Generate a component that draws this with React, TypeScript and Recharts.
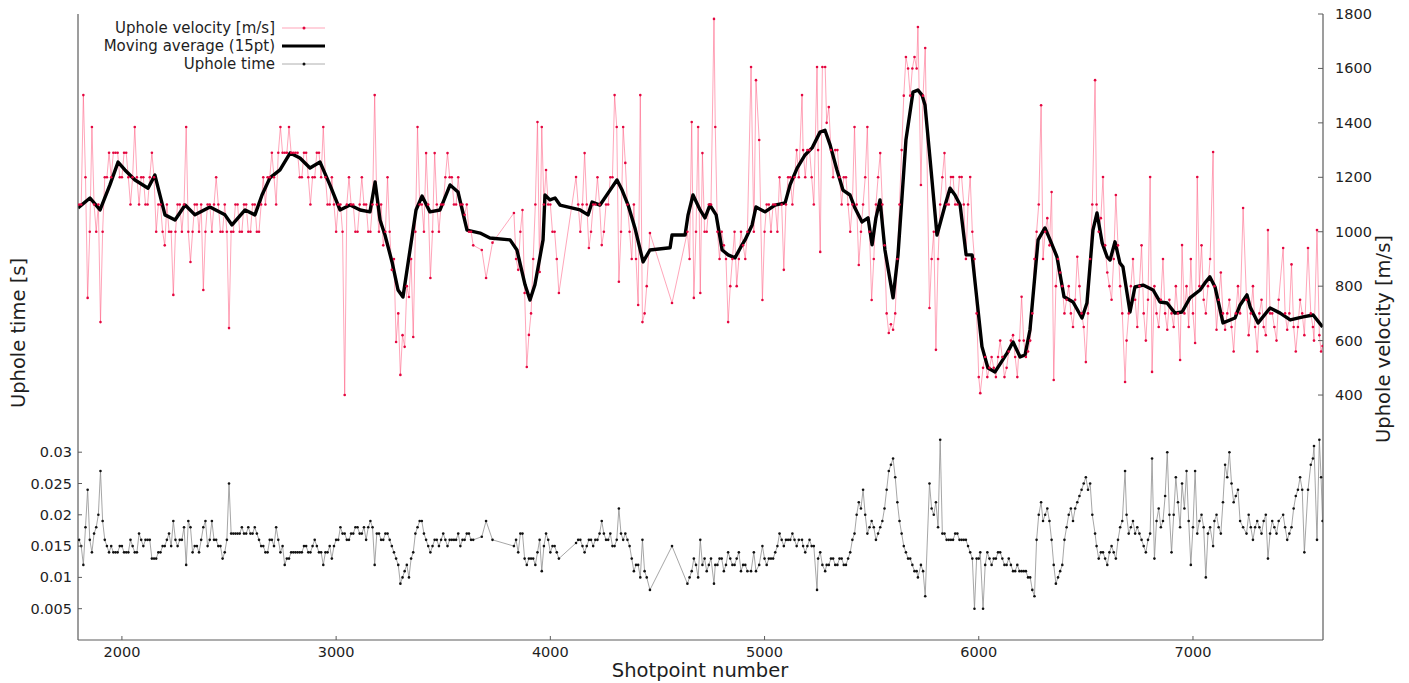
import React from 'react';
import { LineChart, Line, XAxis, YAxis, Legend } from 'recharts';

// Shotpoints shared by the raw velocity and uphole time records
const shotpoints = [
  1800, 1810, 1820, 1830, 1840, 1850, 1860, 1870, 1880, 1890, 1900, 1910, 1920, 1930, 1940, 1950, 1960, 1970, 1980, 1990,
  2000, 2010, 2020, 2030, 2040, 2050, 2060, 2070, 2080, 2090, 2100, 2110, 2120, 2130, 2140, 2150, 2160, 2170, 2180, 2190,
  2200, 2210, 2220, 2230, 2240, 2250, 2260, 2270, 2280, 2290, 2300, 2310, 2320, 2330, 2340, 2350, 2360, 2370, 2380, 2390,
  2400, 2410, 2420, 2430, 2440, 2450, 2460, 2470, 2480, 2490, 2500, 2510, 2520, 2530, 2540, 2550, 2560, 2570, 2580, 2590,
  2600, 2610, 2620, 2630, 2640, 2650, 2660, 2670, 2680, 2690, 2700, 2710, 2720, 2730, 2740, 2750, 2760, 2770, 2780, 2790,
  2800, 2810, 2820, 2830, 2840, 2850, 2860, 2870, 2880, 2890, 2900, 2910, 2920, 2930, 2940, 2950, 2960, 2970, 2980, 2990,
  3000, 3010, 3020, 3030, 3040, 3050, 3060, 3070, 3080, 3090, 3100, 3110, 3120, 3130, 3140, 3150, 3160, 3170, 3180, 3190,
  3200, 3210, 3220, 3230, 3240, 3250, 3260, 3270, 3280, 3290, 3300, 3310, 3320, 3330, 3340, 3350, 3360, 3370, 3380, 3390,
  3400, 3410, 3420, 3430, 3440, 3450, 3460, 3470, 3480, 3490, 3500, 3510, 3520, 3530, 3540, 3550, 3560, 3570, 3580, 3590,
  3600, 3610, 3620, 3630, 3640, 3680, 3700, 3730, 3830, 3840, 3850, 3860, 3870, 3880, 3890,
  3900, 3910, 3920, 3930, 3940, 3950, 3960, 3970, 3980, 3990, 4000, 4010, 4020, 4030, 4040,
  4120, 4130, 4140, 4150, 4160, 4170, 4180, 4190, 4200, 4210, 4220, 4230, 4240, 4250, 4260, 4270, 4280, 4290,
  4300, 4310, 4320, 4330, 4340, 4350, 4360, 4370, 4380, 4390, 4400, 4410, 4420, 4430, 4440, 4450, 4465, 4568,
  4640, 4650, 4660, 4670, 4680, 4690, 4700, 4710, 4720, 4730, 4740, 4750, 4764, 4770, 4780, 4790, 4800, 4810, 4820, 4830,
  4840, 4850, 4860, 4870, 4880, 4890, 4900, 4910, 4920, 4937, 4950, 4960, 4975, 4990,
  5000, 5010, 5020, 5030, 5040, 5050, 5060, 5070, 5080, 5090, 5100,
  5110, 5120, 5130, 5140, 5150, 5160, 5175, 5180, 5190, 5200, 5210, 5220, 5230, 5245, 5250, 5260, 5270, 5283,
  5290, 5300, 5310, 5320, 5330, 5340, 5350, 5360, 5370, 5380, 5390, 5400, 5410, 5420, 5430, 5440, 5450, 5460, 5470,
  5480, 5490, 5500, 5510, 5520, 5530, 5540, 5550, 5560, 5570, 5580, 5590, 5600, 5610, 5620, 5630, 5640, 5650, 5660, 5670,
  5680, 5690, 5700, 5710, 5716, 5730, 5740, 5750, 5770, 5780, 5790, 5800, 5810, 5820, 5830, 5840, 5850,
  5860, 5870, 5880, 5890, 5900, 5910, 5920, 5930, 5940, 5950, 5960, 5970, 5980, 5990, 6000, 6007,
  6020, 6030, 6040, 6050, 6060, 6070, 6080, 6090, 6100, 6110, 6120, 6130, 6140, 6150, 6160, 6170, 6180, 6190, 6200, 6210, 6220, 6230,
  6240, 6250, 6260, 6270, 6280, 6291, 6300, 6310, 6320, 6330, 6340, 6350, 6360, 6370, 6380, 6390,
  6400, 6410, 6420, 6430, 6440, 6450, 6460, 6470, 6480, 6490, 6500, 6510, 6520, 6530, 6543, 6550, 6560, 6570, 6580, 6590,
  6600, 6610, 6620, 6630, 6640, 6650, 6660, 6670, 6683, 6690, 6700, 6710, 6720, 6730, 6740, 6750, 6760, 6770, 6780, 6790,
  6800, 6809, 6820, 6830, 6840, 6850, 6860, 6870, 6880, 6890, 6900, 6910, 6920, 6930, 6940, 6949,
  6960, 6970, 6980, 6990, 7000, 7010, 7020, 7030, 7040, 7050, 7060, 7070, 7080, 7094,
  7100, 7110, 7120, 7130, 7140, 7150, 7160, 7170, 7180, 7190, 7200, 7210, 7220, 7234,
  7250, 7260, 7270, 7280, 7290, 7300, 7310, 7320, 7330, 7340,
  7350, 7360, 7370, 7380, 7390, 7400, 7421, 7430, 7440, 7450, 7460, 7470, 7480, 7490, 7500, 7510, 7520, 7537,
  7550, 7560, 7565, 7579, 7590, 7598, 7605,
];

// m/s
const upholeVelocity = [
  1100, 1100, 1502, 1200, 757, 1000, 1385, 1100, 1000, 1100, 668, 1000, 1200, 1200, 1290, 1200, 1290, 1290, 1290, 1200,
  1200, 1290, 1290, 1200, 1100, 1200, 1385, 1200, 1100, 1200, 1200, 1100, 1100, 1200, 1290, 1200, 1000, 1100, 1100, 1000,
  950, 1100, 1000, 1000, 768, 1000, 1100, 1100, 1000, 1100, 1385, 1000, 889, 1000, 1100, 1100, 1000, 1100, 786, 1000,
  1100, 1100, 1000, 1100, 1200, 1100, 1000, 1000, 1100, 1000, 646, 1000, 1000, 1100, 1100, 1000, 1000, 1100, 1100, 1000,
  1000, 1100, 1100, 1000, 1000, 1100, 1200, 1100, 1200, 1200, 1290, 1200, 1100, 1290, 1385, 1290, 1290, 1290, 1385, 1290,
  1290, 1290, 1290, 1200, 1200, 1290, 1290, 1200, 1100, 1200, 1200, 1290, 1290, 1200, 1385, 1200, 1100, 1100, 1200, 1100,
  1000, 1100, 1100, 1000, 400, 1100, 1200, 1100, 1100, 1000, 1000, 1100, 1200, 1100, 1100, 1000, 1000, 1100, 1502, 1100,
  1000, 1100, 950, 1000, 1200, 1000, 860, 900, 595, 700, 474, 620, 577, 800, 760, 900, 613, 1000, 1385, 1100,
  1100, 1000, 1289, 1100, 830, 1000, 1289, 1100, 1000, 1100, 1100, 1200, 1289, 1200, 1200, 1100, 1100, 1200, 1100, 1100,
  1062, 1100, 1000, 1000, 950, 933, 830, 960, 1069, 900, 860, 1000, 1080, 775, 503,
  621, 700, 900, 1100, 1403, 852, 1385, 1100, 1227, 1100, 1100, 1000, 1000, 900, 775,
  1201, 1100, 1000, 1100, 1289, 1100, 940, 1000, 1100, 1100, 1200, 1100, 951, 1000, 1100, 1100, 1200, 1200,
  1502, 1385, 816, 1000, 1385, 1253, 1100, 1000, 900, 1100, 900, 731, 1502, 668, 700, 800, 995, 738,
  1000, 900, 1403, 757, 1000, 1385, 775, 1289, 1000, 1000, 1100, 1100, 1782, 1385, 1000, 900, 1000, 950, 900, 668,
  800, 900, 1000, 800, 900, 1000, 950, 900, 1000, 1605, 1000, 1557, 1337, 749,
  1000, 1100, 1100, 1000, 1100, 1100, 1000, 1200, 1100, 860, 1100,
  1200, 1200, 1100, 1200, 1300, 1200, 1502, 1300, 1200, 1300, 1300, 1200, 1100, 1605, 1300, 926, 1605, 1605,
  1400, 1458, 1300, 1200, 1300, 1300, 1200, 1100, 1200, 1200, 1100, 1000, 1100, 1385, 1100, 878, 1000, 1100, 1200,
  1385, 1000, 749, 900, 1100, 1200, 1289, 1100, 950, 700, 628, 660, 640, 700, 900, 1100, 1300, 1500, 1642, 1600,
  1500, 1600, 1642, 1600, 1752, 1172, 1500, 1675, 720, 900, 1000, 566, 900, 1100, 1200, 1289, 1100,
  1100, 1201, 1201, 1100, 1100, 1201, 1201, 1100, 900, 1100, 1201, 1000, 900, 700, 466, 407,
  500, 540, 466, 500, 540, 500, 466, 540, 600, 540, 466, 500, 560, 600, 620, 540, 466, 600, 761, 600, 540, 560,
  600, 700, 900, 1000, 1100, 1465, 900, 1000, 1050, 950, 1146, 455, 800, 900, 850, 800,
  700, 750, 800, 700, 650, 750, 908, 800, 700, 650, 521, 700, 900, 1100, 1557, 1100, 1000, 1050, 1201, 950,
  850, 800, 750, 900, 1135, 950, 800, 700, 448, 600, 700, 800, 900, 750, 650, 800, 950, 700, 600, 750,
  1201, 485, 800, 700, 650, 750, 900, 700, 640, 750, 700, 650, 800, 700, 529, 951,
  700, 800, 650, 900, 700, 591, 1201, 800, 950, 750, 700, 800, 900, 1293,
  800, 640, 750, 850, 700, 640, 700, 750, 650, 560, 700, 800, 700, 1087,
  750, 620, 700, 800, 650, 560, 700, 750, 650, 620,
  1006, 700, 700, 650, 600, 750, 940, 700, 640, 700, 880, 650, 560, 650, 750, 700, 620, 940,
  700, 650, 600, 1006, 620, 560, 580,
];

// seconds
const upholeTime = [
  0.016, 0.015, 0.012, 0.018, 0.024, 0.016, 0.014, 0.017, 0.018, 0.020, 0.027, 0.019, 0.016, 0.015, 0.014, 0.015, 0.014, 0.014, 0.014, 0.015,
  0.015, 0.014, 0.014, 0.014, 0.016, 0.015, 0.014, 0.014, 0.017, 0.016, 0.015, 0.016, 0.016, 0.016, 0.013, 0.013, 0.013, 0.014, 0.014, 0.015,
  0.015, 0.016, 0.017, 0.015, 0.019, 0.016, 0.015, 0.016, 0.016, 0.018, 0.012, 0.019, 0.018, 0.014, 0.015, 0.015, 0.014, 0.016, 0.018, 0.019,
  0.015, 0.016, 0.019, 0.016, 0.016, 0.015, 0.015, 0.013, 0.014, 0.016, 0.025, 0.017, 0.017, 0.017, 0.017, 0.017, 0.018, 0.017, 0.017, 0.018,
  0.017, 0.017, 0.018, 0.017, 0.016, 0.015, 0.015, 0.014, 0.014, 0.016, 0.016, 0.015, 0.018, 0.016, 0.014, 0.015, 0.012, 0.013, 0.013, 0.014,
  0.014, 0.014, 0.014, 0.014, 0.014, 0.015, 0.015, 0.014, 0.014, 0.015, 0.016, 0.015, 0.014, 0.014, 0.012, 0.014, 0.014, 0.015, 0.013, 0.015,
  0.016, 0.016, 0.018, 0.017, 0.017, 0.016, 0.016, 0.017, 0.017, 0.018, 0.018, 0.017, 0.017, 0.018, 0.016, 0.018, 0.019, 0.018, 0.012, 0.017,
  0.017, 0.016, 0.016, 0.017, 0.017, 0.016, 0.015, 0.014, 0.013, 0.012, 0.009, 0.010, 0.011, 0.012, 0.010, 0.013, 0.014, 0.017, 0.018, 0.019,
  0.019, 0.017, 0.016, 0.015, 0.014, 0.015, 0.016, 0.016, 0.015, 0.016, 0.017, 0.016, 0.015, 0.016, 0.016, 0.016, 0.016, 0.017, 0.015, 0.016,
  0.016, 0.017, 0.017, 0.016, 0.016, 0.0165, 0.019, 0.016, 0.015, 0.016, 0.014, 0.017, 0.017, 0.013, 0.012,
  0.013, 0.013, 0.013, 0.012, 0.014, 0.016, 0.011, 0.015, 0.017, 0.016, 0.014, 0.015, 0.015, 0.014, 0.013,
  0.0155, 0.016, 0.016, 0.015, 0.014, 0.015, 0.016, 0.016, 0.015, 0.016, 0.016, 0.017, 0.019, 0.017, 0.016, 0.016, 0.017, 0.015,
  0.015, 0.016, 0.021, 0.017, 0.016, 0.017, 0.016, 0.015, 0.013, 0.011, 0.012, 0.012, 0.010, 0.016, 0.011, 0.010, 0.008, 0.015,
  0.009, 0.010, 0.011, 0.013, 0.012, 0.010, 0.016, 0.012, 0.013, 0.011, 0.012, 0.013, 0.009, 0.012, 0.012, 0.013, 0.013, 0.011, 0.012, 0.014,
  0.013, 0.012, 0.012, 0.013, 0.014, 0.011, 0.012, 0.012, 0.011, 0.011, 0.014, 0.011, 0.012, 0.015,
  0.013, 0.012, 0.013, 0.013, 0.013, 0.014, 0.015, 0.017, 0.016, 0.015, 0.016,
  0.016, 0.016, 0.017, 0.016, 0.015, 0.016, 0.016, 0.015, 0.014, 0.015, 0.016, 0.015, 0.015, 0.008, 0.013, 0.014, 0.012, 0.011,
  0.012, 0.012, 0.013, 0.013, 0.012, 0.012, 0.013, 0.013, 0.012, 0.012, 0.013, 0.014, 0.016, 0.017, 0.020, 0.022, 0.021, 0.024, 0.020,
  0.017, 0.018, 0.019, 0.018, 0.016, 0.017, 0.018, 0.019, 0.021, 0.024, 0.027, 0.028, 0.029, 0.026, 0.022, 0.019, 0.017, 0.015, 0.014, 0.013,
  0.013, 0.012, 0.011, 0.011, 0.010, 0.012, 0.011, 0.007, 0.025, 0.021, 0.020, 0.022, 0.018, 0.032, 0.017, 0.017, 0.016,
  0.016, 0.016, 0.016, 0.017, 0.017, 0.016, 0.016, 0.016, 0.016, 0.015, 0.014, 0.013, 0.005, 0.013, 0.013, 0.014,
  0.005, 0.012, 0.014, 0.013, 0.012, 0.013, 0.013, 0.014, 0.014, 0.013, 0.012, 0.012, 0.013, 0.012, 0.011, 0.011, 0.012, 0.011, 0.011, 0.011, 0.011, 0.010,
  0.010, 0.008, 0.007, 0.016, 0.020, 0.022, 0.019, 0.020, 0.021, 0.019, 0.016, 0.012, 0.009, 0.010, 0.011, 0.012,
  0.016, 0.018, 0.020, 0.021, 0.019, 0.021, 0.022, 0.023, 0.024, 0.025, 0.026, 0.024, 0.025, 0.020, 0.017, 0.015, 0.013, 0.014, 0.014, 0.013,
  0.012, 0.014, 0.015, 0.014, 0.013, 0.016, 0.018, 0.019, 0.027, 0.020, 0.017, 0.018, 0.019, 0.017, 0.018, 0.017, 0.016, 0.015, 0.014, 0.016,
  0.017, 0.029, 0.013, 0.019, 0.021, 0.018, 0.019, 0.023, 0.030, 0.020, 0.014, 0.020, 0.026, 0.022, 0.018, 0.025,
  0.021, 0.027, 0.019, 0.012, 0.018, 0.027, 0.017, 0.019, 0.020, 0.018, 0.010, 0.017, 0.018, 0.015,
  0.019, 0.020, 0.018, 0.017, 0.022, 0.028, 0.026, 0.030, 0.025, 0.022, 0.023, 0.024, 0.019, 0.018,
  0.017, 0.020, 0.018, 0.016, 0.018, 0.019, 0.018, 0.017, 0.019, 0.020,
  0.013, 0.017, 0.019, 0.018, 0.017, 0.019, 0.020, 0.018, 0.016, 0.017, 0.018, 0.021, 0.023, 0.024, 0.026, 0.024, 0.014, 0.024,
  0.028, 0.029, 0.031, 0.016, 0.032, 0.026, 0.019,
];

// 15-point moving average of the velocity
const avgShotpoints = [
  1795, 1851, 1898, 1944, 1982, 2014, 2061, 2122, 2154, 2201,
  2248, 2295, 2341, 2411, 2481, 2514, 2575, 2621, 2654, 2691,
  2738, 2785, 2831, 2878, 2925, 2971, 3018, 3065, 3112, 3158,
  3182, 3205, 3228, 3261, 3289, 3312, 3345, 3373, 3401, 3438,
  3485, 3532, 3569, 3611, 3672, 3718, 3812, 3844, 3882, 3905,
  3928, 3966, 3975, 3998, 4022, 4045, 4139, 4176, 4195, 4232,
  4279, 4311, 4335, 4363, 4395, 4433, 4465, 4559, 4568, 4629,
  4643, 4666, 4699, 4722, 4745, 4774, 4802, 4830, 4862, 4895,
  4909, 4942, 4960, 5002, 5049, 5096, 5119, 5152, 5189, 5222,
  5259, 5282, 5306, 5338, 5366, 5399, 5422, 5455, 5483, 5502,
  5520, 5539, 5562, 5600, 5623, 5660, 5693, 5716, 5735, 5749,
  5773, 5805, 5843, 5866, 5889, 5913, 5941, 5969, 6015, 6043,
  6076, 6132, 6160, 6193, 6216, 6239, 6277, 6309, 6333, 6365,
  6398, 6440, 6482, 6505, 6533, 6552, 6576, 6599, 6613, 6636,
  6659, 6673, 6706, 6729, 6767, 6814, 6846, 6879, 6916, 6949,
  6986, 7033, 7056, 7079, 7103, 7140, 7196, 7220, 7252, 7267,
  7304, 7360, 7407, 7454, 7514, 7561, 7605,
];

const movingAverage = [
  1087, 1124, 1080, 1172, 1256, 1227, 1190, 1160, 1208, 1062,
  1043, 1098, 1062, 1091, 1062, 1025, 1080, 1062, 1135, 1198,
  1227, 1289, 1271, 1234, 1256, 1172, 1080, 1098, 1080, 1073,
  1183, 1043, 988, 889, 786, 760, 933, 1080, 1131, 1073,
  1080, 1172, 1146, 1006, 995, 977, 970, 933, 805, 749,
  805, 970, 1135, 1117, 1124, 1098, 1080, 1062, 1109, 1098,
  1153, 1190, 1153, 1098, 1014, 889, 933, 941, 988, 988,
  1062, 1135, 1080, 1051, 1098, 1062, 933, 915, 904, 952,
  970, 1025, 1091, 1073, 1098, 1106, 1172, 1234, 1282, 1308,
  1366, 1373, 1319, 1227, 1153, 1135, 1087, 1036, 1051, 952,
  1051, 1117, 933, 757, 915, 1337, 1513, 1521, 1502, 1466,
  1264, 988, 1098, 1160, 1135, 1098, 915, 915, 578, 499,
  485, 554, 595, 540, 547, 639, 970, 1014, 970, 908,
  761, 742, 683, 738, 1006, 1069, 959, 908, 896, 963,
  885, 871, 705, 797, 804, 786, 742, 738, 701, 705,
  757, 786, 812, 834, 797, 665, 683, 731, 768, 723,
  665, 720, 701, 676, 687, 694, 650,
];

const xTicks = [2000, 3000, 4000, 5000, 6000, 7000];
const timeTicks = [0.005, 0.01, 0.015, 0.02, 0.025, 0.03];
const velocityTicks = [400, 600, 800, 1000, 1200, 1400, 1600, 1800];

const velocityData = shotpoints.map((shot, i) => ({ shot, value: upholeVelocity[i] }));
const timeData = shotpoints.map((shot, i) => ({ shot, value: upholeTime[i] }));
const averageData = avgShotpoints.map((shot, i) => ({ shot, value: movingAverage[i] }));

const WIDTH = 1409;
const HEIGHT = 683;
const FONT = '"DejaVu Sans", sans-serif';
const AXIS_COLOR = '#5c5c5c';
const TEXT_COLOR = '#1e1e1e';
const VEL_LINE = '#ff4d76';
const VEL_DOT = '#e3063f';

// matplotlib-style ticks: short marks pointing into the plot
const BottomTick = ({ x, y, payload }: any) => (
  <g>
    <line x1={x} y1={y} x2={x} y2={y - 4} stroke={AXIS_COLOR} />
    <text x={x} y={y + 16.5} textAnchor="middle" fontSize={14.5} fill={TEXT_COLOR} fontFamily={FONT}>
      {payload.value}
    </text>
  </g>
);

const TopTick = ({ x, y }: any) => (
  <line x1={x} y1={y} x2={x} y2={y + 4} stroke={AXIS_COLOR} />
);

const LeftTick = ({ x, y, payload }: any) => (
  <g>
    <line x1={x} y1={y} x2={x + 4} y2={y} stroke={AXIS_COLOR} />
    <text x={x - 6} y={y + 5} textAnchor="end" fontSize={14.5} fill={TEXT_COLOR} fontFamily={FONT}>
      {payload.value}
    </text>
  </g>
);

const RightTick = ({ x, y, payload }: any) => (
  <g>
    <line x1={x} y1={y} x2={x - 5} y2={y} stroke={AXIS_COLOR} />
    <text x={x + 12} y={y + 5} textAnchor="start" fontSize={14.5} fill={TEXT_COLOR} fontFamily={FONT}>
      {payload.value}
    </text>
  </g>
);

const legendItems = [
  { label: 'Uphole velocity [m/s]', kind: 'velocity' },
  { label: 'Moving average (15pt)', kind: 'average' },
  { label: 'Uphole time', kind: 'time' },
];

const renderLegend = () => (
  <div style={{ fontFamily: FONT, fontSize: 15, color: TEXT_COLOR }}>
    {legendItems.map((item) => (
      <div key={item.kind} style={{ display: 'flex', alignItems: 'center', height: 18 }}>
        <span style={{ width: 267, textAlign: 'right', whiteSpace: 'nowrap' }}>{item.label}</span>
        <svg width={44} height={18} style={{ marginLeft: 7 }}>
          {item.kind === 'velocity' && (
            <>
              <line x1={0} y1={9} x2={43} y2={9} stroke={VEL_LINE} strokeOpacity={0.5} />
              <circle cx={22} cy={9} r={1.5} fill={VEL_DOT} />
            </>
          )}
          {item.kind === 'average' && <line x1={0} y1={9} x2={43} y2={9} stroke="#000" strokeWidth={3} />}
          {item.kind === 'time' && (
            <>
              <line x1={0} y1={9} x2={43} y2={9} stroke="#9a9a9a" strokeWidth={0.8} />
              <circle cx={22} cy={9} r={1.5} fill="#111" />
            </>
          )}
        </svg>
      </div>
    ))}
  </div>
);

const titleStyle = { fontFamily: FONT, fontSize: 19.5, fill: TEXT_COLOR };

const App: React.FC = () => {
  const xDomain: [number, number] = [1795, 7607];

  return (
    <div style={{ position: 'absolute', left: 0, top: 0, width: WIDTH, height: HEIGHT, background: '#fff' }}>
      <LineChart width={WIDTH} height={HEIGHT} margin={{ top: 14, right: 0, bottom: 0, left: 0 }}>
        <XAxis
          type="number"
          dataKey="shot"
          domain={xDomain}
          allowDataOverflow
          ticks={xTicks}
          interval={0}
          height={43}
          tickSize={0}
          tickMargin={0}
          tickLine={false}
          tick={<BottomTick />}
          axisLine={{ stroke: AXIS_COLOR, strokeWidth: 1.2 }}
          label={{
            content: () => (
              <text x={700} y={677} textAnchor="middle" {...titleStyle}>
                Shotpoint number
              </text>
            ),
          }}
        />
        <XAxis
          xAxisId="top"
          orientation="top"
          type="number"
          domain={xDomain}
          allowDataOverflow
          ticks={xTicks}
          interval={0}
          height={0}
          tickSize={0}
          tickMargin={0}
          tickLine={false}
          tick={<TopTick />}
          axisLine={{ stroke: AXIS_COLOR, strokeWidth: 1.2 }}
        />
        <YAxis
          yAxisId="time"
          orientation="left"
          type="number"
          domain={[0, 0.1]}
          allowDataOverflow
          ticks={timeTicks}
          interval={0}
          width={78}
          tickSize={0}
          tickMargin={0}
          tickLine={false}
          tick={<LeftTick />}
          axisLine={{ stroke: AXIS_COLOR, strokeWidth: 1.2 }}
          label={{
            content: () => (
              <text
                x={18}
                y={333}
                transform="rotate(-90 18 333)"
                textAnchor="middle"
                dominantBaseline="central"
                {...titleStyle}
              >
                Uphole time [s]
              </text>
            ),
          }}
        />
        <YAxis
          yAxisId="vel"
          orientation="right"
          type="number"
          domain={[-500, 1800]}
          allowDataOverflow
          ticks={velocityTicks}
          interval={0}
          width={86}
          tickSize={0}
          tickMargin={0}
          tickLine={false}
          tick={<RightTick />}
          axisLine={{ stroke: AXIS_COLOR, strokeWidth: 1.2 }}
          label={{
            content: () => (
              <text
                x={1383}
                y={339}
                transform="rotate(-90 1383 339)"
                textAnchor="middle"
                dominantBaseline="central"
                {...titleStyle}
              >
                Uphole velocity [m/s]
              </text>
            ),
          }}
        />
        <Legend
          layout="vertical"
          align="center"
          verticalAlign="middle"
          wrapperStyle={{ top: 19, left: 8, width: 330 }}
          content={renderLegend}
        />
        <Line
          yAxisId="time"
          data={timeData}
          dataKey="value"
          name="Uphole time"
          type="linear"
          stroke="#8f8f8f"
          strokeWidth={0.8}
          dot={{ r: 1.3, fill: '#111', stroke: 'none' }}
          activeDot={false}
          isAnimationActive={false}
        />
        <Line
          yAxisId="vel"
          data={velocityData}
          dataKey="value"
          name="Uphole velocity [m/s]"
          type="linear"
          stroke={VEL_LINE}
          strokeOpacity={0.5}
          strokeWidth={1}
          dot={{ r: 1.3, fill: VEL_DOT, stroke: 'none' }}
          activeDot={false}
          isAnimationActive={false}
        />
        <Line
          yAxisId="vel"
          data={averageData}
          dataKey="value"
          name="Moving average (15pt)"
          type="linear"
          stroke="#000"
          strokeWidth={3.4}
          strokeLinejoin="round"
          dot={false}
          activeDot={false}
          isAnimationActive={false}
        />
      </LineChart>
    </div>
  );
};

export default App;
